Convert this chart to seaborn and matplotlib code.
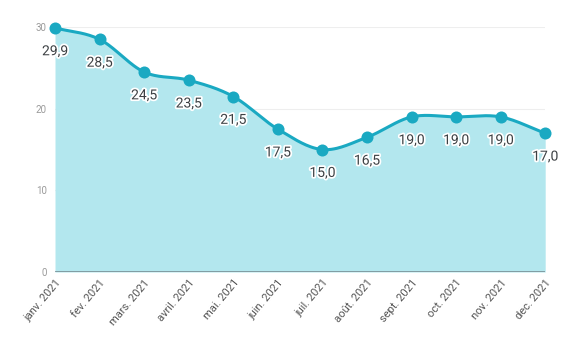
import numpy as np
import pandas as pd
import matplotlib
matplotlib.use("Agg")
import matplotlib.pyplot as plt
import matplotlib.patheffects as pe
import seaborn as sns

months = ["janv. 2021", "fev. 2021", "mars. 2021", "avril. 2021", "mai. 2021", "juin. 2021",
          "juil. 2021", "août. 2021", "sept. 2021", "oct. 2021", "nov. 2021", "dec. 2021"]
values = [29.9, 28.5, 24.5, 23.5, 21.5, 17.5, 15.0, 16.5, 19.0, 19.0, 19.0, 17.0]
yticks = [0, 10, 20, 30]

sns.set_theme(style="white")
plt.rcParams['font.family'] = ['Roboto', 'DejaVu Sans']

LINE = "#1aa9c2"
FILL = "#b3e7ee"

x = np.arange(len(values), dtype=float)
y = np.array(values, dtype=float)

# Smooth curve through the points (cubic Hermite, Catmull-Rom tangents)
m = np.zeros_like(y)
m[1:-1] = (y[2:] - y[:-2]) / 2.0
m[0] = (y[1] - y[0])
m[-1] = (y[-1] - y[-2])
xs, ys = [], []
for i in range(len(x) - 1):
    t = np.linspace(0, 1, 30, endpoint=(i == len(x) - 2))
    h00 = 2*t**3 - 3*t**2 + 1
    h10 = t**3 - 2*t**2 + t
    h01 = -2*t**3 + 3*t**2
    h11 = t**3 - t**2
    xs.append(x[i] + t)
    ys.append(h00*y[i] + h10*m[i] + h01*y[i+1] + h11*m[i+1])
xs = np.concatenate(xs)
ys = np.concatenate(ys)
smooth = pd.DataFrame({"x": xs, "y": ys})
pts = pd.DataFrame({"x": x, "y": y})

fig = plt.figure(figsize=(5.7, 3.42), dpi=100)
ax = fig.add_axes([0.0965, 0.2047, 0.860, 0.716])

ax.fill_between(xs, 0, ys, color=FILL, lw=0, zorder=1)
sns.lineplot(data=smooth, x="x", y="y", ax=ax, color=LINE, lw=2.2, zorder=3)
sns.scatterplot(data=pts, x="x", y="y", ax=ax, color=LINE, s=75, edgecolor=LINE, linewidth=0, zorder=4, clip_on=False)

for xi, yi in zip(x, y):
    ax.text(xi, yi - 2.0, f"{yi:.1f}".replace(".", ","), ha="center", va="top",
            fontsize=10, color="#3c4043", zorder=5,
            path_effects=[pe.withStroke(linewidth=2.5, foreground="white")])

ax.set_xlim(0, len(values) - 1)
ax.set_ylim(0, 30)
ax.set_yticks(yticks)
ax.set_yticklabels([str(v) for v in yticks], fontsize=7, color="#9a9a9a")
ax.set_xticks(x)
ax.set_xticklabels(months, rotation=50, ha="right", rotation_mode="anchor", fontsize=8, color="#555555")
ax.tick_params(axis="both", length=0, pad=6)
ax.tick_params(axis="x", pad=4)
for v in yticks[1:]:
    ax.axhline(v, color="#eeeeee", lw=0.8, zorder=0)
ax.axhline(0, color="#7d969c", lw=2, zorder=6)
for s in ax.spines.values():
    s.set_visible(False)
ax.set_xlabel("")
ax.set_ylabel("")

fig.savefig("out.png", dpi=100)
